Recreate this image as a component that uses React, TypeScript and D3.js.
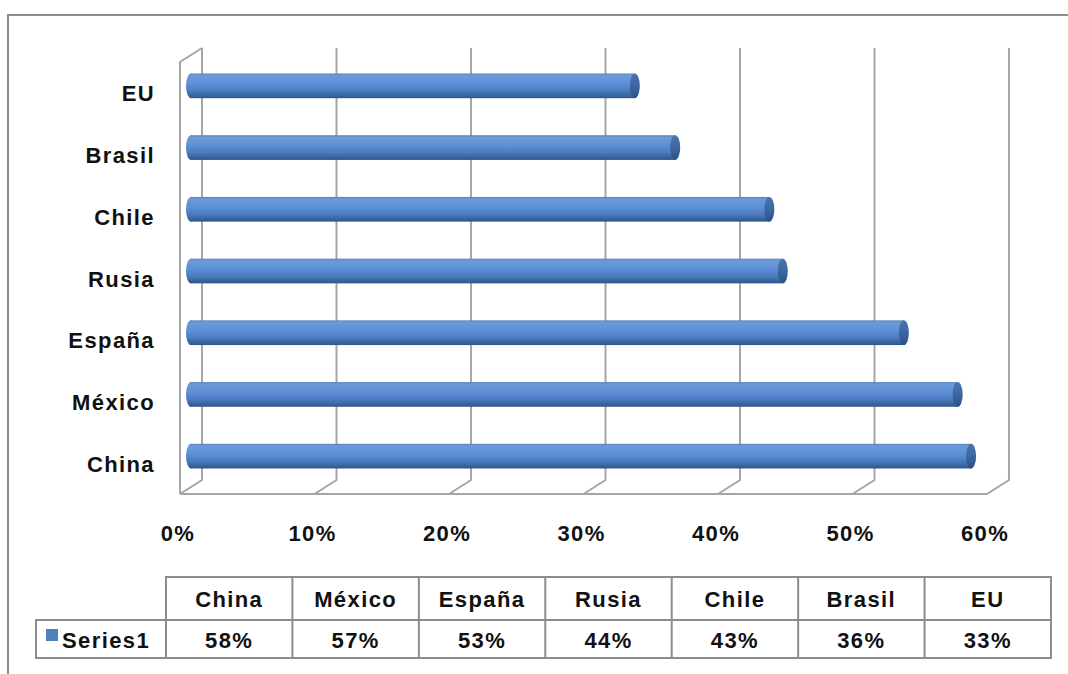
import React from "react";
import * as d3 from "d3";

const categories = ["China", "México", "España", "Rusia", "Chile", "Brasil", "EU"];
const values = [0.58, 0.57, 0.53, 0.44, 0.43, 0.36, 0.33];
const seriesName = "Series1";
const xTicks = [0, 0.1, 0.2, 0.3, 0.4, 0.5, 0.6];

const W = 1068;
const H = 674;
const FONT = "'Liberation Sans', Arial, sans-serif";
const GRID = "#a6a6a6";

export default function App() {
  const dx = 22;
  const dy = -14;
  const floorY = 494;
  const frontTop = 62;
  const xFront = d3.scaleLinear().domain([0, 0.6]).range([180, 987]);
  // bars sit at mid depth
  const yBand = d3
    .scaleBand<string>()
    .domain([...categories].reverse())
    .range([frontTop + dy / 2, floorY + dy / 2])
    .paddingInner(0.6)
    .paddingOuter(0.3);
  const barH = yBand.bandwidth();
  const fmt = d3.format(".0%");

  // table
  const tableLeft = 166;
  const colW = (1051 - 166) / categories.length;
  const rowTop = 577;
  const rowMid = 620;
  const rowBot = 658;
  const seriesLeft = 36;

  const textStyle = {
    fontFamily: FONT,
    fontWeight: 700,
    fontSize: 22,
    letterSpacing: 1.4,
    fill: "#111",
  } as const;

  return (
    <svg
      width={W}
      height={H}
      style={{ position: "absolute", left: 0, top: 0, background: "#fff" }}
    >
      <defs>
        <linearGradient id="cyl" x1="0" y1="0" x2="0" y2="1">
          <stop offset="0" stopColor="#5580bb" />
          <stop offset="0.08" stopColor="#6e9ad6" />
          <stop offset="0.4" stopColor="#5d90d8" />
          <stop offset="0.7" stopColor="#4c7cbf" />
          <stop offset="0.9" stopColor="#38639c" />
          <stop offset="1" stopColor="#2e5588" />
        </linearGradient>
        <linearGradient id="cap" x1="0" y1="0" x2="0" y2="1">
          <stop offset="0" stopColor="#4a74ad" />
          <stop offset="0.5" stopColor="#3c679f" />
          <stop offset="1" stopColor="#2b5184" />
        </linearGradient>
      </defs>

      {/* outer frame */}
      <path d={`M8,${H} L8,15 L${W},15`} fill="none" stroke="#8c8c8c" strokeWidth={2} />

      {/* walls and gridlines */}
      <g stroke={GRID} strokeWidth={2} fill="none">
        <path
          d={`M${xFront(0)},${floorY} L${xFront(0)},${frontTop} L${xFront(0) + dx},${frontTop + dy}`}
        />
        <line x1={xFront(0)} y1={floorY} x2={xFront(0.6)} y2={floorY} />
        {xTicks.map((t) => (
          <path
            key={t}
            d={`M${xFront(t) + dx},${frontTop + dy} L${xFront(t) + dx},${floorY + dy} L${xFront(t)},${floorY}`}
          />
        ))}
      </g>

      {/* bars */}
      {categories.map((c, i) => {
        const y = yBand(c)!;
        const x0 = xFront(0) + dx / 2;
        const x1 = xFront(values[i]) + dx / 2;
        return (
          <g key={c}>
            <rect x={x0} y={y} width={x1 - x0} height={barH} fill="url(#cyl)" />
            <ellipse cx={x0} cy={y + barH / 2} rx={5} ry={barH / 2} fill="url(#cyl)" />
            <ellipse cx={x1} cy={y + barH / 2} rx={5} ry={barH / 2} fill="url(#cap)" />
          </g>
        );
      })}

      {/* category labels */}
      {categories.map((c) => (
        <text
          key={c}
          x={155}
          y={yBand(c)! + barH / 2 + 8}
          textAnchor="end"
          dominantBaseline="central"
          style={textStyle}
        >
          {c}
        </text>
      ))}

      {/* x axis labels */}
      {xTicks.map((t) => (
        <text
          key={t}
          x={xFront(t) - 2}
          y={533}
          textAnchor="middle"
          dominantBaseline="central"
          style={textStyle}
        >
          {fmt(t)}
        </text>
      ))}

      {/* data table */}
      <g stroke="#8c8c8c" strokeWidth={2} fill="none">
        <rect x={tableLeft} y={rowTop} width={colW * categories.length} height={rowBot - rowTop} />
        <rect x={seriesLeft} y={rowMid} width={tableLeft - seriesLeft} height={rowBot - rowMid} />
        <line x1={tableLeft} y1={rowMid} x2={tableLeft + colW * categories.length} y2={rowMid} />
        {categories.map((c, i) =>
          i > 0 ? (
            <line
              key={c}
              x1={tableLeft + colW * i}
              y1={rowTop}
              x2={tableLeft + colW * i}
              y2={rowBot}
            />
          ) : null
        )}
      </g>
      {categories.map((c, i) => (
        <g key={c}>
          <text
            x={tableLeft + colW * (i + 0.5)}
            y={(rowTop + rowMid) / 2 + 1}
            textAnchor="middle"
            dominantBaseline="central"
            style={textStyle}
          >
            {c}
          </text>
          <text
            x={tableLeft + colW * (i + 0.5)}
            y={(rowMid + rowBot) / 2 + 1}
            textAnchor="middle"
            dominantBaseline="central"
            style={textStyle}
          >
            {fmt(values[i])}
          </text>
        </g>
      ))}
      <rect x={46} y={629} width={12} height={12} fill="#4f81bd" />
      <text x={62} y={(rowMid + rowBot) / 2 + 1} dominantBaseline="central" style={textStyle}>
        {seriesName}
      </text>
    </svg>
  );
}
